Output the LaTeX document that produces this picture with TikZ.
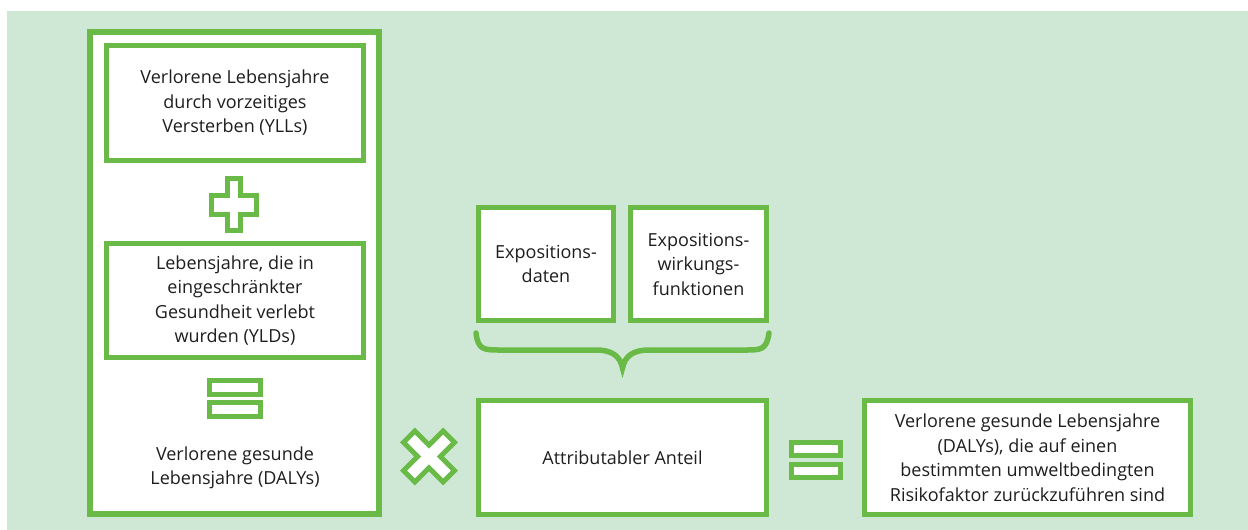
\documentclass[tikz,border=0pt]{standalone}
\usepackage{fontspec}
\setmainfont{Open Sans}
\definecolor{bggreen}{RGB}{207,232,213}
\definecolor{linegreen}{RGB}{106,186,72}
\definecolor{txt}{RGB}{30,30,30}
\begin{document}
\begin{tikzpicture}[x=1pt,y=-1pt,
  box/.style={draw=linegreen,line width=5pt,fill=white,inner sep=0pt,align=center,text=txt,
    font=\fontsize{18}{24.5}\selectfont},
  lbl/.style={inner sep=0pt,align=center,text=txt,font=\fontsize{18}{24.5}\selectfont},
  sym/.style={draw=linegreen,line width=5pt,fill=white,line join=miter},
  brace/.style={draw=linegreen,line width=5.5pt,line cap=round}]
\useasboundingbox (0,0) rectangle (1248,530);
\fill[white] (0,0) rectangle (1248,530);
\fill[bggreen] (7,11) rectangle (1248,530);
% big left box
\node[draw=linegreen,line width=6pt,fill=white,minimum width=289pt,minimum height=482pt] (big) at (234.5,273) {};
\node[box,minimum width=257pt,minimum height=115pt] (yll) at (235,103) {Verlorene Lebensjahre\\durch vorzeitiges\\Versterben (YLLs)};
\node[box,minimum width=257pt,minimum height=114pt] (yld) at (235,300.5) {Lebensjahre, die in\\eingeschränkter\\Gesundheit verlebt\\wurden (YLDs)};
\node[lbl] (daly) at (235,468) {Verlorene gesunde\\Lebensjahre (DALYs)};
% plus
\draw[sym,shift={(234,204.5)}] (-6.5,-26) -- (6.5,-26) -- (6.5,-9.5) -- (22.5,-9.5) -- (22.5,9.5) -- (6.5,9.5) -- (6.5,26) -- (-6.5,26) -- (-6.5,9.5) -- (-22.5,9.5) -- (-22.5,-9.5) -- (-6.5,-9.5) -- cycle;
% equals left
\draw[sym] (209.5,380.5) rectangle (260.5,394.5);
\draw[sym] (209.5,402.5) rectangle (260.5,416.5);
% times
\draw[sym,shift={(429,456.5)},rotate=45] (-8,-28) -- (8,-28) -- (8,-8) -- (28,-8) -- (28,8) -- (8,8) -- (8,28) -- (-8,28) -- (-8,8) -- (-28,8) -- (-28,-8) -- (-8,-8) -- cycle;
% exposure boxes
\node[box,minimum width=135pt,minimum height=113pt] (exd) at (546,264) {Expositions-\\daten};
\node[box,minimum width=136pt,minimum height=113pt] (exw) at (698.5,264) {Expositions-\\wirkungs-\\funktionen};
% brace
\coordinate (bl) at ([yshift=-10pt]exd.south west);
\coordinate (br) at ([yshift=-10pt]exw.south east);
\coordinate (bt) at (622.5,368);
\draw[brace] (bl) .. controls (478,350) and (484,350) .. (500,350) -- (596,350) .. controls (612,350) and (620,356) .. (bt) .. controls (625,356) and (633,350) .. (649,350) -- (745,350) .. controls (761,350) and (766.5,350) .. (br);
% attributable
\node[box,minimum width=288pt,minimum height=114pt] (attr) at (622.5,457.5) {Attributabler Anteil};
% equals right
\draw[sym] (791.5,442.5) rectangle (840.5,455.5);
\draw[sym] (791.5,464.5) rectangle (840.5,477.5);
% result
\node[box,minimum width=326pt,minimum height=114pt] (res) at (1027.5,457.5) {Verlorene gesunde Lebensjahre\\(DALYs), die auf einen\\bestimmten umweltbedingten\\Risikofaktor zurückzuführen sind};
\end{tikzpicture}
\end{document}
